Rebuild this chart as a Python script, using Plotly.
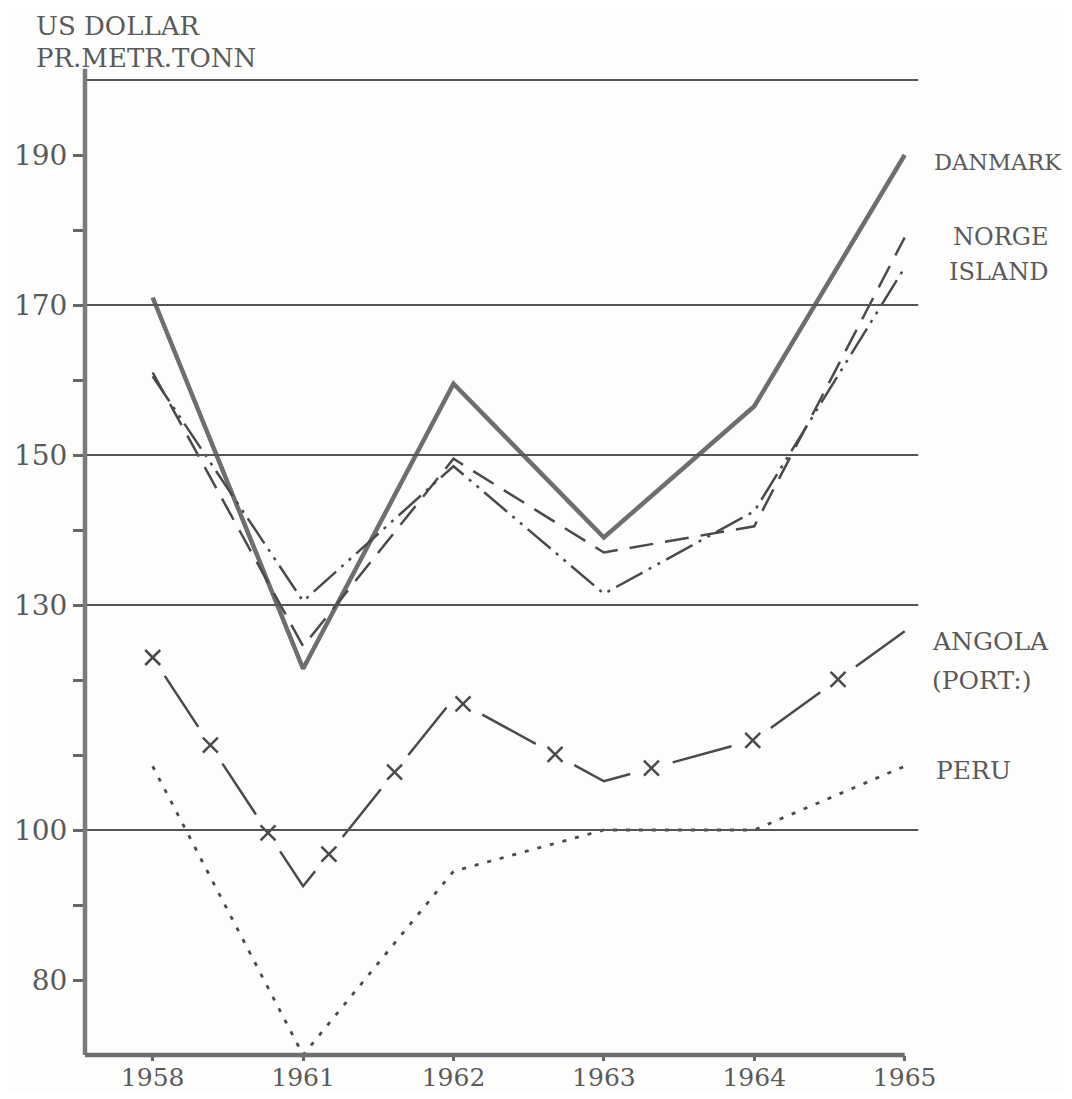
import numpy as np
import plotly.graph_objects as go

# ---------------- data ----------------
years = ["1958", "1961", "1962", "1963", "1964", "1965"]
danmark = [171, 121.5, 159.5, 139, 156.5, 190]
norge = [161, 124.5, 149.5, 137, 140.5, 179]
island = [160.5, 130.5, 148.5, 131.5, 142.5, 175]
angola = [123, 92.5, 117.5, 106.5, 112, 126.5]
peru = [108.5, 70, 94.5, 100, 100, 108.5]

y_tick_values = [80, 90, 100, 110, 120, 130, 140, 150, 160, 170, 180, 190]
y_tick_labels = ["80", "", "100", "", "", "130", "", "150", "", "170", "", "190"]
grid_values = [100, 130, 150, 170, 200]

# ---------------- layout geometry ----------------
OFF = 8                      # default margin of the html body
W, H = 1072 - 2 * OFF, 1099 - 2 * OFF
PW, PH = 843, 985
L, T = 85 - OFF, 70 - OFF
R, B = W - L - PW, H - T - PH
XR = [-0.45, -0.45 + PW / 150.4]
YR = [70, 70 + PH / 7.5]

xs = list(range(len(years)))

def xp(v):  # data x -> paper
    return (v - XR[0]) / (XR[1] - XR[0])

def yp(v):  # data y -> paper
    return (v - YR[0]) / (YR[1] - YR[0])

def pxp(p):  # screen pixel x -> paper
    return (p - OFF - L) / PW

def pyp(p):  # screen pixel y -> paper
    return (H - B - (p - OFF)) / PH

LINE = "#4a4a4a"
TXT = "#5a5a5a"
BG = "#fdfdfc"
FONT = "DejaVu Serif, Liberation Serif, serif"

fig = go.Figure()

fig.add_trace(go.Scatter(x=xs, y=danmark, mode="lines", name="DANMARK",
                         line=dict(color="#6e6e6e", width=4.5)))
fig.add_trace(go.Scatter(x=xs, y=norge, mode="lines", name="NORGE",
                         line=dict(color=LINE, width=2.5, dash="24px,12px")))
fig.add_trace(go.Scatter(x=xs, y=island, mode="lines", name="ISLAND",
                         line=dict(color=LINE, width=2.5,
                                   dash="30px,7px,3px,7px,3px,7px")))
fig.add_trace(go.Scatter(x=xs, y=angola, mode="lines", name="ANGOLA",
                         line=dict(color=LINE, width=2.5,
                                   dash="0px,22px,61px,22px")))

# cross marks placed in the gaps of the ANGOLA dash pattern (every 105 px)
sx = PW / (XR[1] - XR[0])
sy = PH / (YR[1] - YR[0])
pxs = np.array(xs) * sx
pys = np.array(angola) * sy
cum = np.concatenate([[0], np.cumsum(np.hypot(np.diff(pxs), np.diff(pys)))])
dist = np.arange(0, cum[-1] + 1, 105.0)
mark_x = np.interp(dist, cum, xs)
mark_y = np.interp(dist, cum, angola)
fig.add_trace(go.Scatter(x=mark_x, y=mark_y, mode="markers", hoverinfo="skip",
                         marker=dict(symbol="x-thin", size=15,
                                     line=dict(color=LINE, width=2.5))))

fig.add_trace(go.Scatter(x=xs, y=peru, mode="lines", name="PERU",
                         line=dict(color=LINE, width=2.8, dash="4px,9px")))

# ---------------- gridlines and axis lines ----------------
shapes = []
for g in grid_values:
    shapes.append(dict(type="line", xref="paper", yref="paper",
                       x0=0, x1=xp(5.09), y0=yp(g), y1=yp(g),
                       line=dict(color="#555555", width=2)))
shapes.append(dict(type="line", xref="paper", yref="paper",
                   x0=0, x1=0, y0=0, y1=yp(201.5),
                   line=dict(color="#7a7a7a", width=4.5)))
shapes.append(dict(type="line", xref="paper", yref="paper",
                   x0=0, x1=xp(5.0), y0=0, y1=0,
                   line=dict(color="#6e6e6e", width=4.5)))

# ---------------- texts ----------------
ann = []
def label(text, x, y, anchor="left", size=24):
    ann.append(dict(text=text, xref="paper", yref="paper", x=pxp(x), y=pyp(y),
                    xanchor=anchor, yanchor="middle", showarrow=False,
                    font=dict(family=FONT, size=size, color=TXT)))

label("US DOLLAR", 34, 26, size=26)
label("PR.METR.TONN", 34, 58, size=26)
label("DANMARK", 932, 162, size=22.5)
label("NORGE", 1050, 237, "right")
label("ISLAND", 1050, 272, "right")
label("ANGOLA", 930, 641, size=25)
label("(PORT:)", 930, 680, size=25)
label("PERU", 934, 770, size=25)

fig.update_layout(
    width=W, height=H,
    margin=dict(l=L, r=R, t=T, b=B, pad=0),
    paper_bgcolor=BG, plot_bgcolor=BG,
    showlegend=False,
    font=dict(family=FONT, size=26, color=TXT),
    shapes=shapes, annotations=ann,
    xaxis=dict(range=XR, tickvals=xs, ticktext=years, showgrid=False,
               zeroline=False, showline=False, ticks="outside", ticklen=5,
               tickwidth=3, tickcolor="#666666", automargin=False,
               ticklabelstandoff=-5,
               tickfont=dict(family=FONT, size=25, color=TXT)),
    yaxis=dict(range=YR, tickvals=y_tick_values, ticktext=y_tick_labels,
               showgrid=False, zeroline=False, showline=False,
               ticks="outside", ticklen=11, tickwidth=3, tickcolor="#666666",
               automargin=False,
               tickfont=dict(family=FONT, size=28, color=TXT)),
)

fig.write_html("out.html")
